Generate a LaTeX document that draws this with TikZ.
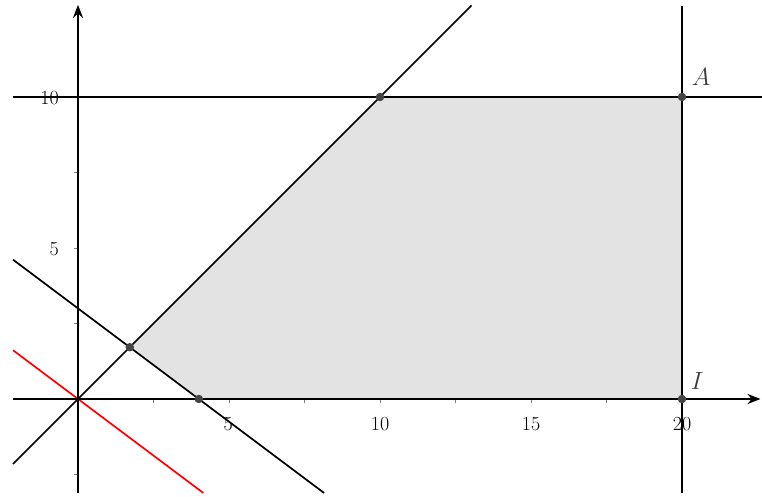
\documentclass[tikz,border=0pt]{standalone}
\usetikzlibrary{arrows.meta}
\definecolor{regiongray}{RGB}{227,227,227}
\definecolor{dotgray}{RGB}{68,68,68}
\definecolor{labelgray}{RGB}{60,60,60}
\begin{document}
\begin{tikzpicture}[x=30.2pt,y=30.2pt,
  axisline/.style={line width=2.2pt,-{Stealth[length=13pt,width=10pt]}},
  bline/.style={line width=1.7pt,black},
  rline/.style={line width=1.7pt,red},
  tickmark/.style={line width=0.7pt,gray},
  ticklabel/.style={font=\fontsize{20}{22}\selectfont,inner sep=0pt},
  ptlabel/.style={font=\fontsize{24}{28}\selectfont,text=labelgray,inner sep=0pt},
  dot/.style={circle,fill=dotgray,inner sep=0pt,minimum size=8.5pt}]
\useasboundingbox (-2.583,-3.245) rectangle (22.649,13.212);
% vertices
\coordinate (P) at (1.7143,1.7143);
\coordinate (B) at (4,0);
\coordinate (C) at (10,10);
\coordinate (A) at (20,10);
\coordinate (I) at (20,0);
% line ends
\coordinate (xl) at (-2.15,0);
\coordinate (xr) at (22.6,0);
\coordinate (yb) at (0,-3.11);
\coordinate (yt) at (0,13.05);
\coordinate (hl) at (-2.15,10);
\coordinate (hr) at (22.649,10);
\coordinate (vt) at (20,13.0);
\coordinate (vb) at (20,-3.11);
\coordinate (dl) at (-2.15,-2.15);
\coordinate (dr) at (13.03,13.03);
\coordinate (ml) at (-2.15,4.6125);
\coordinate (mr) at (8.147,-3.11);
\coordinate (rl) at (-2.15,1.6125);
\coordinate (rr) at (4.147,-3.11);
% region
\fill[regiongray] (P) -- (C) -- (A) -- (I) -- (B) -- cycle;
% ticks
\foreach \t in {2.5,5,7.5,10,12.5,15,17.5,20}
  \draw[tickmark] (\t,0) -- (\t,-0.13);
\foreach \t in {-2.5,2.5,5,7.5,10}
  \draw[tickmark] (0,\t) -- (-0.13,\t);
% lines
\draw[bline] (hl) -- (hr);
\draw[bline] (vt) -- (vb);
\draw[bline] (dl) -- (dr);
\draw[bline] (ml) -- (mr);
\draw[rline] (rl) -- (rr);
% axes
\draw[axisline] (xl) -- (xr);
\draw[axisline] (yb) -- (yt);
% dots
\node[dot] (dP) at (P) {};
\node[dot] (dB) at (B) {};
\node[dot] (dC) at (C) {};
\node[dot] (dA) at (A) {};
\node[dot] (dI) at (I) {};
% tick labels
\node[ticklabel] (lx5) at (4.97,-0.83) {5};
\node[ticklabel] (lx10) at (10,-0.83) {10};
\node[ticklabel] (lx15) at (15,-0.83) {15};
\node[ticklabel] (lx20) at (20,-0.83) {20};
\node[ticklabel,anchor=east] (ly5) at (-0.63,4.95) {5};
\node[ticklabel,anchor=east] (ly10) at (-0.63,9.97) {10};
% point labels
\node[ptlabel] (lA) at (20.63,10.66) {$A$};
\node[ptlabel] (lI) at (20.5,0.6) {$I$};
\end{tikzpicture}
\end{document}
